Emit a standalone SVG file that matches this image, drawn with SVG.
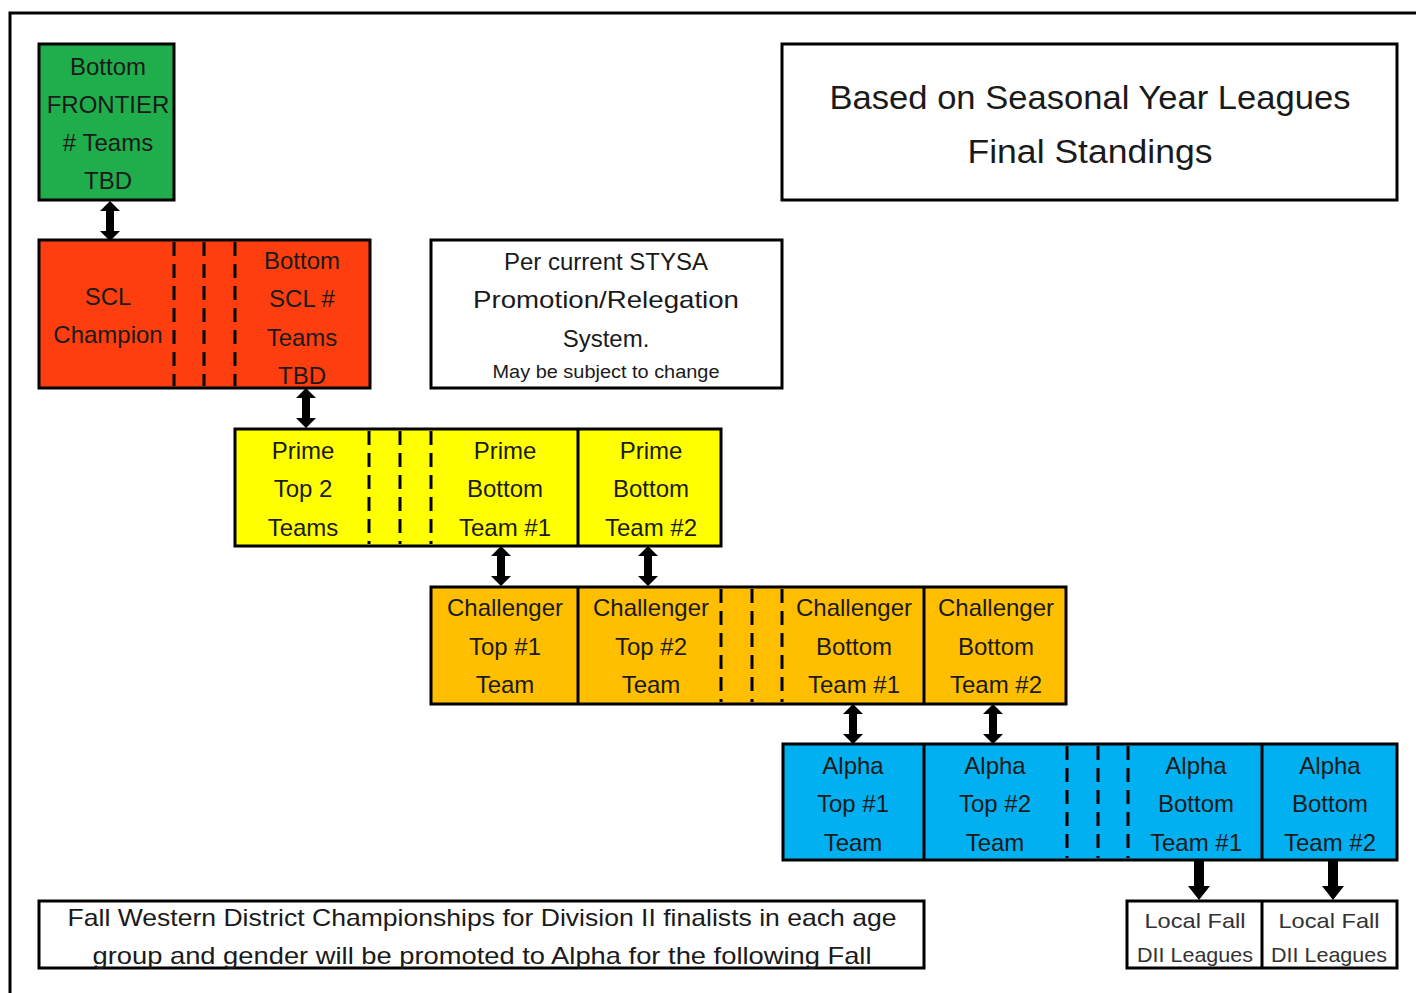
<svg xmlns="http://www.w3.org/2000/svg" width="1416" height="993" viewBox="0 0 1416 993">
<style>
.box{stroke:#000;stroke-width:3}
.t{font-family:"Liberation Sans",Arial,sans-serif;font-size:24px;fill:#1a1a1a;text-anchor:middle}
.sm{font-size:21px;fill:#333}
.dash{stroke:#000;stroke-width:3;stroke-dasharray:14 8}
.solid{stroke:#000;stroke-width:3}
.arrow{fill:#000}
</style>
<defs>
<path id="dbl" d="M0 0 L10 10 L4 10 L4 30 L10 30 L0 40 L-10 30 L-4 30 L-4 10 L-10 10 Z"/>
<path id="down" d="M-5 0 L5 0 L5 26 L11 26 L0 40 L-11 26 L-5 26 Z"/>
</defs>
<rect width="1416" height="993" fill="#fff"/>
<path d="M10 995 L10 13 L1416 13" fill="none" stroke="#000" stroke-width="3"/>

<g id="frontier">
<rect class="box" x="39" y="44" width="135" height="156" fill="#1fae4b"/>
<text class="t" x="108" y="75">Bottom</text>
<text class="t" x="108" y="113">FRONTIER</text>
<text class="t" x="108" y="151"># Teams</text>
<text class="t" x="108" y="189">TBD</text>
</g>

<g id="scl">
<rect class="box" x="39" y="240" width="331" height="148" fill="#fe3e0f"/>
<line class="dash" x1="174" y1="242" x2="174" y2="386"/>
<line class="dash" x1="204" y1="242" x2="204" y2="386"/>
<line class="dash" x1="235" y1="242" x2="235" y2="386"/>
<text class="t" x="108" y="305">SCL</text>
<text class="t" x="108" y="343">Champion</text>
<text class="t" x="302" y="269">Bottom</text>
<text class="t" x="302" y="307">SCL #</text>
<text class="t" x="302" y="346">Teams</text>
<text class="t" x="302" y="384">TBD</text>
</g>

<g id="title">
<rect class="box" x="782" y="44" width="615" height="156" fill="#fff"/>
<text class="t" x="1090" y="109" style="font-size:34px" textLength="521" lengthAdjust="spacingAndGlyphs">Based on Seasonal Year Leagues</text>
<text class="t" x="1090" y="163" style="font-size:34px" textLength="245" lengthAdjust="spacingAndGlyphs">Final Standings</text>
</g>

<g id="note">
<rect class="box" x="431" y="240" width="351" height="148" fill="#fff"/>
<text class="t" x="606" y="270">Per current STYSA</text>
<text class="t" x="606" y="308" textLength="266" lengthAdjust="spacingAndGlyphs">Promotion/Relegation</text>
<text class="t" x="606" y="347">System.</text>
<text class="t" x="606" y="378" style="font-size:18px" textLength="227" lengthAdjust="spacingAndGlyphs">May be subject to change</text>
</g>

<g id="prime">
<rect class="box" x="235" y="429" width="486" height="117" fill="#ffff00"/>
<line class="solid" x1="578" y1="429" x2="578" y2="546"/>
<line class="dash" x1="369" y1="431" x2="369" y2="544"/>
<line class="dash" x1="400" y1="431" x2="400" y2="544"/>
<line class="dash" x1="431" y1="431" x2="431" y2="544"/>
<text class="t" x="303" y="459">Prime</text>
<text class="t" x="303" y="497">Top 2</text>
<text class="t" x="303" y="536">Teams</text>
<text class="t" x="505" y="459">Prime</text>
<text class="t" x="505" y="497">Bottom</text>
<text class="t" x="505" y="536">Team #1</text>
<text class="t" x="651" y="459">Prime</text>
<text class="t" x="651" y="497">Bottom</text>
<text class="t" x="651" y="536">Team #2</text>
</g>

<g id="challenger">
<rect class="box" x="431" y="587" width="635" height="117" fill="#ffbf00"/>
<line class="solid" x1="578" y1="587" x2="578" y2="704"/>
<line class="solid" x1="924" y1="587" x2="924" y2="704"/>
<line class="dash" x1="721" y1="589" x2="721" y2="702"/>
<line class="dash" x1="752" y1="589" x2="752" y2="702"/>
<line class="dash" x1="782" y1="589" x2="782" y2="702"/>
<text class="t" x="505" y="616">Challenger</text>
<text class="t" x="505" y="655">Top #1</text>
<text class="t" x="505" y="693">Team</text>
<text class="t" x="651" y="616">Challenger</text>
<text class="t" x="651" y="655">Top #2</text>
<text class="t" x="651" y="693">Team</text>
<text class="t" x="854" y="616">Challenger</text>
<text class="t" x="854" y="655">Bottom</text>
<text class="t" x="854" y="693">Team #1</text>
<text class="t" x="996" y="616">Challenger</text>
<text class="t" x="996" y="655">Bottom</text>
<text class="t" x="996" y="693">Team #2</text>
</g>

<g id="alpha">
<rect class="box" x="783" y="744" width="614" height="116" fill="#00b0f0"/>
<line class="solid" x1="924" y1="744" x2="924" y2="860"/>
<line class="solid" x1="1262" y1="744" x2="1262" y2="860"/>
<line class="dash" x1="1067" y1="746" x2="1067" y2="858"/>
<line class="dash" x1="1098" y1="746" x2="1098" y2="858"/>
<line class="dash" x1="1128" y1="746" x2="1128" y2="858"/>
<text class="t" x="853" y="774">Alpha</text>
<text class="t" x="853" y="812">Top #1</text>
<text class="t" x="853" y="851">Team</text>
<text class="t" x="995" y="774">Alpha</text>
<text class="t" x="995" y="812">Top #2</text>
<text class="t" x="995" y="851">Team</text>
<text class="t" x="1196" y="774">Alpha</text>
<text class="t" x="1196" y="812">Bottom</text>
<text class="t" x="1196" y="851">Team #1</text>
<text class="t" x="1330" y="774">Alpha</text>
<text class="t" x="1330" y="812">Bottom</text>
<text class="t" x="1330" y="851">Team #2</text>
</g>

<g id="local">
<rect class="box" x="1127" y="901" width="270" height="67" fill="#fff"/>
<line class="solid" x1="1262" y1="901" x2="1262" y2="968"/>
<text class="t sm" x="1195" y="928" textLength="101" lengthAdjust="spacingAndGlyphs">Local Fall</text>
<text class="t sm" x="1195" y="962" textLength="116" lengthAdjust="spacingAndGlyphs">DII Leagues</text>
<text class="t sm" x="1329" y="928" textLength="101" lengthAdjust="spacingAndGlyphs">Local Fall</text>
<text class="t sm" x="1329" y="962" textLength="116" lengthAdjust="spacingAndGlyphs">DII Leagues</text>
</g>

<g id="footnote">
<rect class="box" x="39" y="901" width="885" height="67" fill="#fff"/>
<text class="t" x="482" y="926" textLength="829" lengthAdjust="spacingAndGlyphs">Fall Western District Championships for Division II finalists in each age</text>
<text class="t" x="482" y="964" textLength="779" lengthAdjust="spacingAndGlyphs">group and gender will be promoted to Alpha for the following Fall</text>
</g>

<g id="connectors" class="arrow">
<use href="#dbl" x="110" y="201"/>
<use href="#dbl" x="306" y="388"/>
<use href="#dbl" x="501" y="546"/>
<use href="#dbl" x="648" y="546"/>
<use href="#dbl" x="853" y="704"/>
<use href="#dbl" x="993" y="704"/>
<use href="#down" x="1199" y="860"/>
<use href="#down" x="1333" y="860"/>
</g>
</svg>
